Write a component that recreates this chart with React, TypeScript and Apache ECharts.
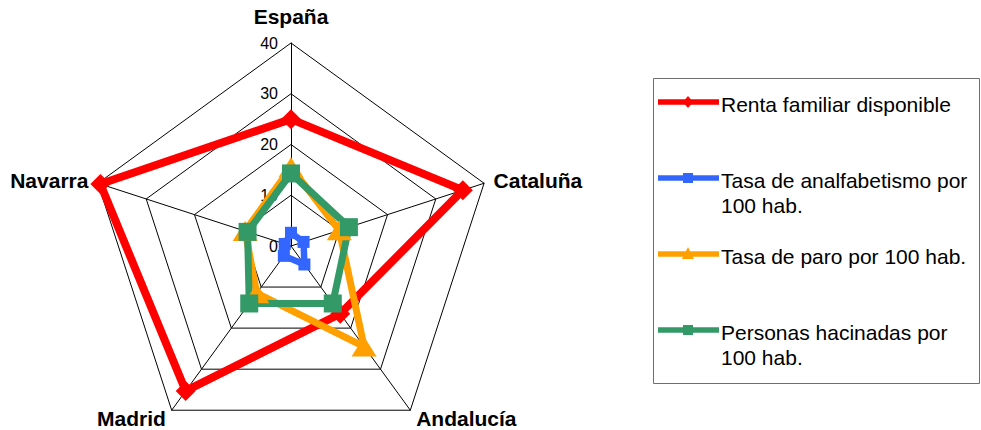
import React, { useEffect, useRef } from "react";
import * as echarts from "echarts";

// Regions, listed counter-clockwise from the top (ECharts radar order)
const regions = ["España", "Navarra", "Madrid", "Andalucía", "Cataluña"];
const axisMax = 40;

const seriesNames = [
  "Renta familiar disponible",
  "Tasa de analfabetismo por\n100 hab.",
  "Tasa de paro por 100 hab.",
  "Personas hacinadas por\n100 hab.",
];
const rentaFamiliar = [25, 39.5, 35.3, 16.5, 35.6];
const tasaAnalfabetismo = [2.6, 1.3, 2.4, 4.5, 2.6];
const tasaParo = [15.5, 9.5, 11.5, 24.5, 10];
const personasHacinadas = [14.3, 9, 14, 14, 12];

const seriesValues = [rentaFamiliar, tasaAnalfabetismo, tasaParo, personasHacinadas];
const seriesColors = ["#ff0000", "#3366ff", "#ffa000", "#339966"];
const seriesSymbols = ["diamond", "rect", "triangle", "rect"];
const symbolSizes: (number | number[])[] = [20, 12, [25, 20], 18];
const lineWidths = [8, 6.5, 7, 7];

const FONT = "'Liberation Sans', Arial, sans-serif";

function legendGraphics() {
  const items: any[] = [];
  items.push({
    type: "rect",
    shape: { x: 653.5, y: 78.5, width: 326, height: 305 },
    style: { fill: "#fff", stroke: "#6e6e6e", lineWidth: 1 },
    z: 1,
  });
  const rowY = [102, 178, 254, 330];
  seriesNames.forEach((name, i) => {
    const y = rowY[i];
    const color = seriesColors[i];
    items.push({
      type: "line",
      shape: { x1: 658, y1: y, x2: 719, y2: y },
      style: { stroke: color, lineWidth: 5.5 },
      z: 2,
    });
    const cx = 688;
    if (seriesSymbols[i] === "diamond") {
      items.push({
        type: "polygon",
        shape: { points: [[cx, y - 6], [cx + 5, y], [cx, y + 6], [cx - 5, y]] },
        style: { fill: color },
        z: 3,
      });
    } else if (seriesSymbols[i] === "triangle") {
      items.push({
        type: "polygon",
        shape: { points: [[cx, y - 7], [cx + 6, y + 5], [cx - 6, y + 5]] },
        style: { fill: color },
        z: 3,
      });
    } else {
      items.push({
        type: "rect",
        shape: { x: cx - 5, y: y - 5, width: 10, height: 10 },
        style: { fill: color },
        z: 3,
      });
    }
    items.push({
      type: "text",
      x: 721,
      y: y + 2,
      style: {
        text: name,
        fill: "#000",
        font: `21px ${FONT}`,
        lineHeight: 25,
        textVerticalAlign: "top",
        y: -12,
      },
      z: 3,
    });
  });
  return items;
}

export default function App() {
  const ref = useRef<HTMLDivElement>(null);

  useEffect(() => {
    if (!ref.current) return;
    const chart = echarts.init(ref.current, undefined, { renderer: "svg" });

    chart.setOption({
      animation: false,
      backgroundColor: "#ffffff",
      radar: {
        center: [291, 246],
        radius: 203,
        startAngle: 90,
        shape: "polygon",
        splitNumber: 4,
        nameGap: 10,
        axisName: {
          color: "#000",
          fontWeight: "bold",
          fontSize: 21,
          fontFamily: FONT,
          formatter: (name: string) => (name === "España" ? `{top|${name}}` : name),
          rich: {
            top: {
              color: "#000",
              fontWeight: "bold",
              fontSize: 21,
              fontFamily: FONT,
              padding: [0, 0, 6, 0],
            },
          },
        },
        axisLine: { lineStyle: { color: "#000", width: 1 } },
        splitLine: { lineStyle: { color: "#000", width: 1 } },
        splitArea: { show: false },
        axisTick: { show: false },
        axisLabel: { show: false },
        indicator: regions.map((name, i) => ({
          name,
          min: 0,
          max: axisMax,
          ...(i === 0
            ? {
                axisLabel: {
                  show: true,
                  color: "#000",
                  fontSize: 16,
                  fontFamily: FONT,
                  margin: 13,
                },
              }
            : {}),
        })),
      },
      series: [
        {
          type: "radar",
          data: seriesValues.map((values, i) => ({
            name: seriesNames[i],
            value: values,
            symbol: seriesSymbols[i],
            symbolSize: symbolSizes[i],
            lineStyle: { color: seriesColors[i], width: lineWidths[i] },
            itemStyle: { color: seriesColors[i] },
          })),
        },
      ],
      graphic: legendGraphics(),
    });

    return () => chart.dispose();
  }, []);

  return (
    <div
      ref={ref}
      style={{ position: "fixed", left: 0, top: 0, width: 981, height: 430, background: "#fff" }}
    />
  );
}
